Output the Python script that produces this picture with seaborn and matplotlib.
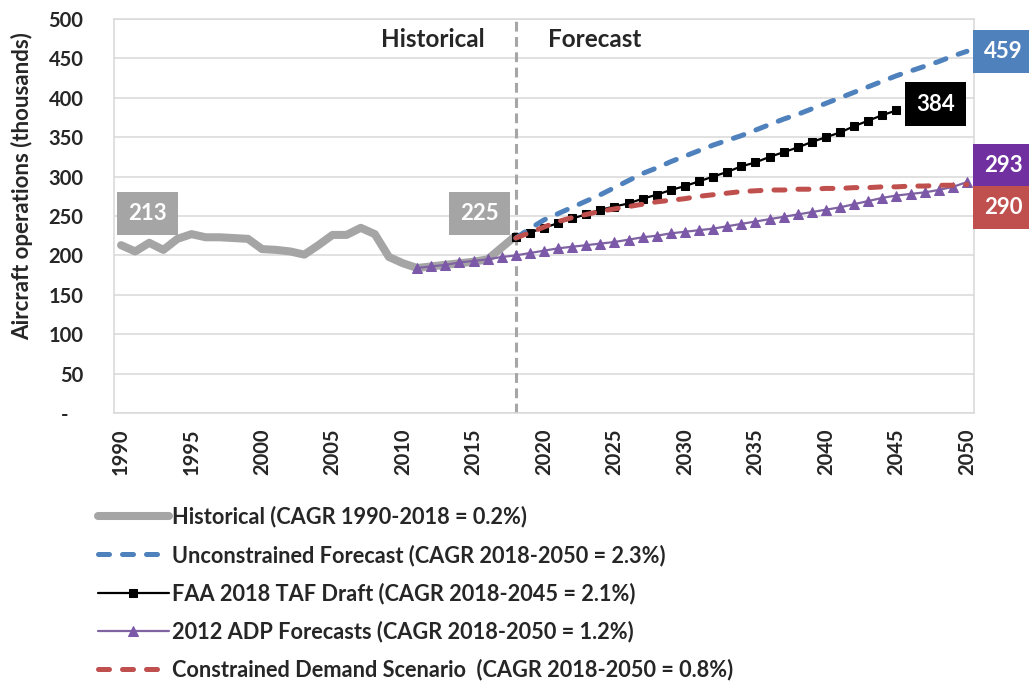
import matplotlib
matplotlib.use("Agg")
import matplotlib.pyplot as plt
import seaborn as sns
import pandas as pd
import numpy as np
from matplotlib.ticker import FixedLocator

# ---------------- data ----------------
hist_years = list(range(1990, 2019))
hist_vals = [213, 205, 216, 207, 221, 227, 223, 223, 222, 221, 208, 207, 205, 201, 213,
             226, 226, 235, 227, 198, 190, 184, 186, 188, 190, 192, 195, 210, 225]

unc_years = list(range(2018, 2051))
unc_vals = [222, 234, 245, 253, 261, 269, 277, 286, 295, 304, 311, 319, 326, 333, 340, 346,
            352, 359, 366, 373, 379, 386, 393, 400, 407, 414, 421, 428, 434, 440, 446, 453, 459]

faa_years = list(range(2018, 2046))
faa_vals = [223, 229, 235, 241, 247, 252, 258, 262, 266, 272, 277, 283, 288, 294, 300, 306,
            313, 318, 325, 331, 337, 344, 350, 356, 364, 371, 378, 384]

adp_years = list(range(2011, 2051))
adp_vals = [184, 186, 188, 191, 193, 195, 198, 200, 203, 206, 209, 211, 213, 215, 217, 220,
            223, 225, 228, 230, 232, 234, 237, 240, 243, 246, 249, 252, 255, 258, 261, 265,
            269, 273, 276, 278, 280, 283, 287, 293]

con_years = list(range(2018, 2051))
con_vals = [222, 229, 236, 243, 248, 252, 256, 259, 262, 265, 268, 270, 272, 275, 277, 279,
            281, 282, 283, 283, 284, 284, 285, 285, 286, 286, 287, 287, 288, 288, 289, 289, 290]

series_labels = [
    "Historical (CAGR 1990-2018 = 0.2%)",
    "Unconstrained Forecast (CAGR 2018-2050 = 2.3%)",
    "FAA 2018 TAF Draft (CAGR 2018-2045 = 2.1%)",
    "2012 ADP Forecasts (CAGR 2018-2050 = 1.2%)",
    "Constrained Demand Scenario  (CAGR 2018-2050 = 0.8%)",
]
y_ticks = [0, 50, 100, 150, 200, 250, 300, 350, 400, 450, 500]
y_tick_labels = ["-   ", "50", "100", "150", "200", "250", "300", "350", "400", "450", "500"]
x_ticks = list(range(1990, 2051, 5))

# ---------------- style ----------------
sns.set_style("white")
plt.rcParams["font.family"] = ["Lato", "DejaVu Sans"]
plt.rcParams["font.weight"] = "bold"

GRID = "#D9D9D9"
GRAY = "#A5A5A5"
BLUE = "#4F81BD"
RED = "#C0504D"
PURPLE = "#8064A2"
PURPLE_BOX = "#7030A0"

fig = plt.figure(figsize=(10.29, 6.81), dpi=100)
ax = fig.add_axes([114 / 1029, 1 - 413 / 681, 860 / 1029, 394 / 681])

df_hist = pd.DataFrame({"year": hist_years, "value": hist_vals})
df_unc = pd.DataFrame({"year": unc_years, "value": unc_vals})
df_faa = pd.DataFrame({"year": faa_years, "value": faa_vals})
df_adp = pd.DataFrame({"year": adp_years, "value": adp_vals})
df_con = pd.DataFrame({"year": con_years, "value": con_vals})

sns.lineplot(data=df_hist, x="year", y="value", ax=ax, color=GRAY, lw=5.8,
             solid_capstyle="round", solid_joinstyle="round", label=series_labels[0], zorder=3)
sns.lineplot(data=df_adp, x="year", y="value", ax=ax, color=PURPLE, lw=1.6, marker="^",
             markersize=6.8, markerfacecolor="#7B58A8", markeredgecolor="#7B58A8",
             label=series_labels[3], zorder=4)
sns.lineplot(data=df_faa, x="year", y="value", ax=ax, color="black", lw=1.6, marker="s",
             markersize=6.4, markerfacecolor="black", markeredgecolor="black",
             label=series_labels[2], zorder=5)
sns.lineplot(data=df_unc, x="year", y="value", ax=ax, color=BLUE, lw=3.6,
             label=series_labels[1], zorder=6)
sns.lineplot(data=df_con, x="year", y="value", ax=ax, color=RED, lw=3.6,
             label=series_labels[4], zorder=7)
for line in ax.get_lines():
    if line.get_color() in (BLUE, RED):
        line.set_dashes((2.2, 2.6))
        line.set_dash_capstyle("round")

# divider
ax.axvline(2018, color="#A6A6A6", lw=2.2, dashes=(3.2, 1.8), zorder=2)

# axes
ax.set_xlim(1989.5, 2050.5)
ax.set_ylim(0, 500)
ax.set_yticks(y_ticks)
ax.set_yticklabels(y_tick_labels)
ax.set_xticks(x_ticks)
ax.set_xticklabels([str(x) for x in x_ticks], rotation=90)
ax.xaxis.set_minor_locator(FixedLocator(np.arange(1989.5, 2051, 1)))
ax.tick_params(axis="x", which="major", length=0, pad=11, labelsize=14.5)
ax.tick_params(axis="x", which="minor", length=5, width=1.1, color=GRID)
ax.tick_params(axis="y", which="major", length=5, width=1.1, color=GRID, pad=17, labelsize=14.5)
ax.yaxis.grid(True, color=GRID, lw=1.1)
ax.xaxis.grid(False)
ax.set_axisbelow(True)
for side in ["left", "bottom", "right", "top"]:
    ax.spines[side].set_color(GRID)
    ax.spines[side].set_linewidth(1.1)
    ax.spines[side].set_visible(True)
ax.set_xlabel("")
ax.set_ylabel("Aircraft operations (thousands)", fontsize=16, fontweight="bold")
ax.yaxis.set_label_coords(-0.094, 0.576)
for t in ax.get_xticklabels() + ax.get_yticklabels():
    t.set_fontweight("bold")

# section titles
ax.text(2015.8, 474, "Historical", ha="right", va="center", fontsize=17.5, fontweight="bold")
ax.text(2020.3, 474, "Forecast", ha="left", va="center", fontsize=17.5, fontweight="bold")

# value boxes
def box(x, y, txt, fc, ha="center"):
    ax.text(x, y, txt, ha=ha, va="center", fontsize=16, fontweight="bold", color="white",
            bbox=dict(boxstyle="square,pad=0.5", fc=fc, ec="none"), clip_on=False, zorder=10)

box(1991.85, 253, "213", GRAY)
box(2015.4, 253, "225", GRAY)
box(2047.8, 392, "384", "black")
box(2052.6, 459, "459", BLUE)
box(2052.6, 314, "293", PURPLE_BOX)
box(2052.6, 261, "290", RED)

# legend
handles, labels = ax.get_legend_handles_labels()
order = [series_labels.index(l) for l in labels]
pairs = sorted(zip(order, handles, labels))
handles = [p[1] for p in pairs]
labels = [p[2] for p in pairs]
leg = fig.legend(handles, labels, loc="upper left", bbox_to_anchor=(98 / 1029, 1 - 506 / 681),
                 frameon=False, fontsize=15.7, handlelength=3.25, handletextpad=0.15,
                 labelspacing=0.76, borderpad=0, borderaxespad=0)
for t in leg.get_texts():
    t.set_fontweight("bold")
ax.get_legend().remove()

fig.savefig("out.png", dpi=100)
